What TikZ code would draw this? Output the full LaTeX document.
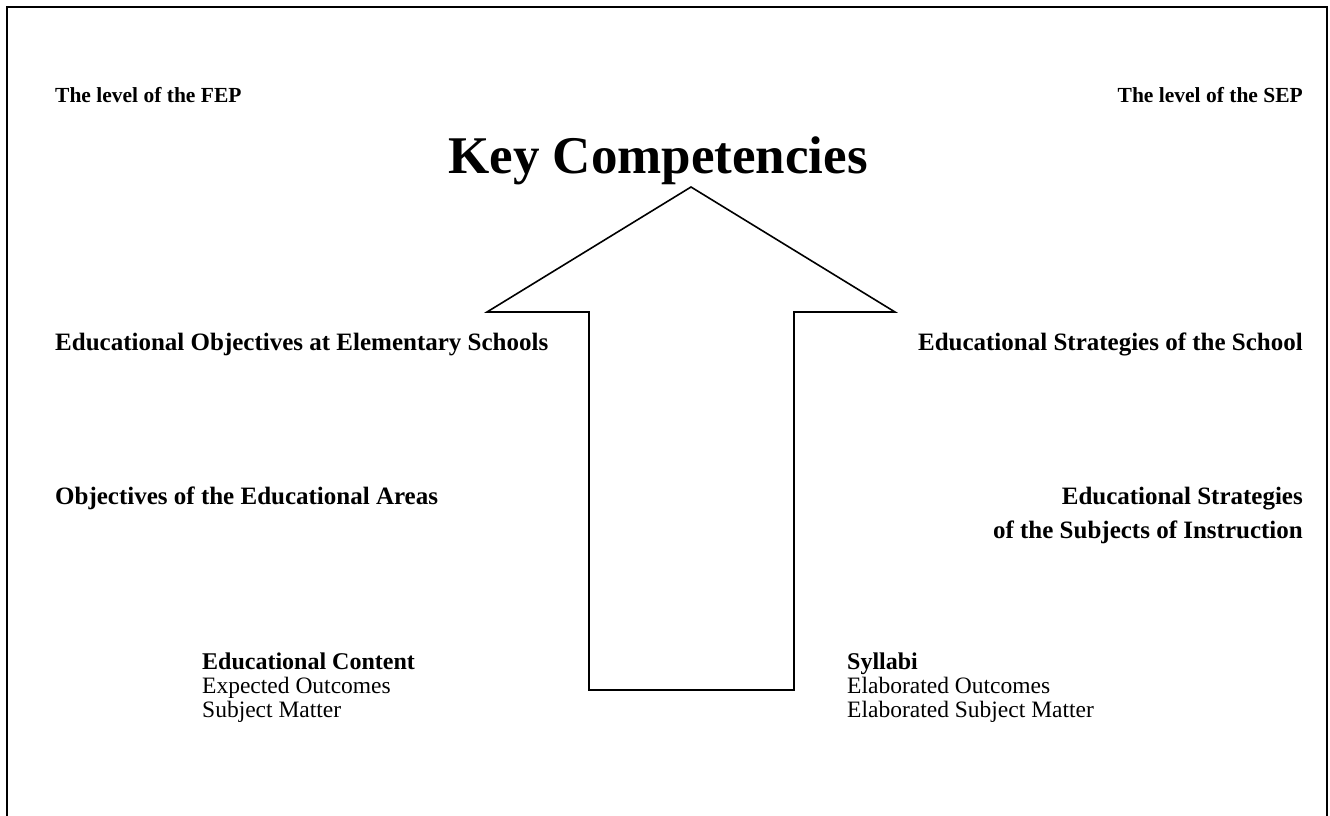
\documentclass[tikz,border=0pt]{standalone}
\usepackage{fontspec}
\setmainfont{Liberation Serif}
\begin{document}
\begin{tikzpicture}[x=1pt,y=-1pt,
  toplbl/.style={inner sep=0pt,font=\fontsize{21.5}{24}\selectfont\bfseries},
  lbl/.style={inner sep=0pt,font=\fontsize{25}{28}\selectfont\bfseries},
  sublbl/.style={inner sep=0pt,font=\fontsize{24}{24}\selectfont\bfseries},
  plain/.style={inner sep=0pt,font=\fontsize{23.5}{24}\selectfont},
  title/.style={inner sep=0pt,font=\fontsize{53}{60}\selectfont\bfseries},
  frame/.style={line width=1.8pt},
  bigarrow/.style={line width=1.6pt,line join=miter}]
\useasboundingbox (0,0) rectangle (1330,816);
\draw[frame] (7,830) -- (7,7) -- (1327,7) -- (1327,830);
% big arrow
\coordinate (tip) at (691,187);
\coordinate (lb) at (487,312);
\coordinate (ls) at (589,312);
\coordinate (lbot) at (589,690);
\coordinate (rbot) at (794,690);
\coordinate (rs) at (794,312);
\coordinate (rb) at (895,312);
\draw[bigarrow] (tip) -- (rb) -- (rs) -- (rbot) -- (lbot) -- (ls) -- (lb) -- cycle;
% texts
\node[toplbl,anchor=base west] (fep) at (55,102) {The level of the FEP};
\node[toplbl,anchor=base east] (sep) at (1303,102) {The level of the SEP};
\node[title,anchor=base] (kc) at (658,173) {Key Competencies};
\node[lbl,anchor=base west] (eoes) at (55,350.5) {Educational Objectives at Elementary Schools};
\node[lbl,anchor=base east] (ess) at (1303,350.5) {Educational Strategies of the School};
\node[lbl,anchor=base west] (oea) at (55,504.5) {Objectives of the Educational Areas};
\node[lbl,anchor=base east] (es1) at (1303,504.5) {Educational Strategies};
\node[lbl,anchor=base east] (es2) at (1303,538.5) {of the Subjects of Instruction};
\node[sublbl,anchor=base west] (ec) at (202,669) {Educational Content};
\node[plain,anchor=base west] (eo) at (202,693) {Expected Outcomes};
\node[plain,anchor=base west] (sm) at (202,717) {Subject Matter};
\node[sublbl,anchor=base west] (syl) at (847,669) {Syllabi};
\node[plain,anchor=base west] (elo) at (847,693) {Elaborated Outcomes};
\node[plain,anchor=base west] (esm) at (847,717) {Elaborated Subject Matter};
\end{tikzpicture}
\end{document}
